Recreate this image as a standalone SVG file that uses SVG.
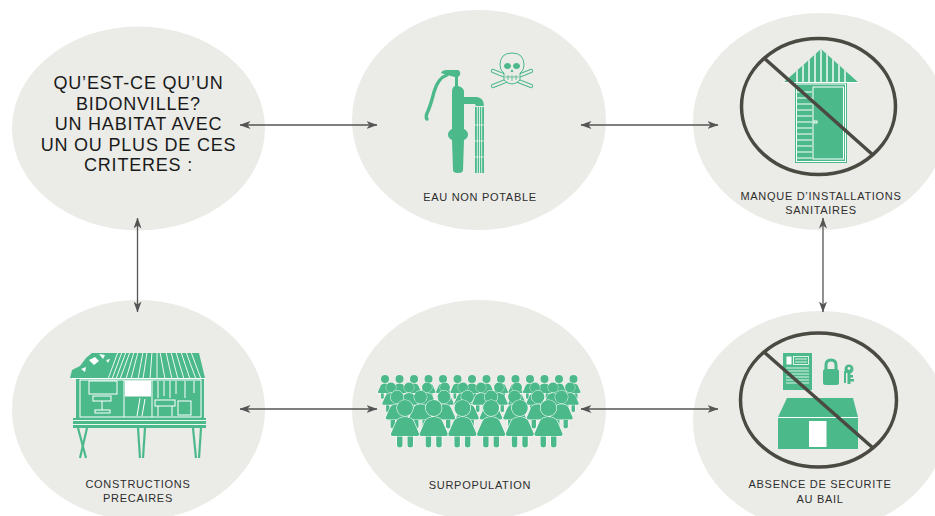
<svg xmlns="http://www.w3.org/2000/svg" xmlns:xlink="http://www.w3.org/1999/xlink" width="935" height="516" viewBox="0 0 935 516">
  <style>
    .bubble { fill: #ebebe7; }
    .title { font-family: "Liberation Sans", Arial, sans-serif; font-size: 18px; letter-spacing: 0.8px; fill: #1a1a1a; text-anchor: middle; }
    .label { font-family: "Liberation Sans", Arial, sans-serif; font-size: 11px; letter-spacing: 0.7px; fill: #2e2e2e; text-anchor: middle; }
    .g { fill: #4cb98b; }
    .gs { fill: none; stroke: #4cb98b; }
    .wl { fill: none; stroke: #ffffff; }
    .ban { fill: none; stroke: #4a4a42; stroke-width: 3.5; }
    .link { fill: none; stroke: #555555; stroke-width: 1.3; marker-start: url(#head); marker-end: url(#head); }
  </style>
  <defs>
    <marker id="head" viewBox="0 0 11 8" markerUnits="userSpaceOnUse" markerWidth="11" markerHeight="8" refX="10.5" refY="4" orient="auto-start-reverse">
      <path d="M0,0 L11,4 L0,8 L3,4 Z" fill="#555555"/>
    </marker>
    <symbol id="person" overflow="visible">
      <g fill="#4cb98b" stroke="#ffffff" stroke-width="1.2" paint-order="stroke">
        <path d="M-8,27 h5.5 v10 q0,2.5 -2.75,2.5 q-2.75,0 -2.75,-2.5 Z"/>
        <path d="M2.5,27 h5.5 v10 q0,2.5 -2.75,2.5 q-2.75,0 -2.75,-2.5 Z"/>
        <circle cx="0" cy="0" r="8"/>
        <path d="M-5,10 Q0,8 5,10 Q8,11 9,14 L14,25.5 Q14.5,28 12,28 L-12,28 Q-14.5,28 -14,25.5 L-9,14 Q-8,11 -5,10 Z"/>
      </g>
    </symbol>
    <clipPath id="roofClip">
      <path d="M821,49 L859,83 L783,83 Z"/>
    </clipPath>
    <clipPath id="shackRoof">
      <path d="M70,378 L72,370 L80,366 L86,358 L92,353 L199,353 L205,378 Z"/>
    </clipPath>
  </defs>

  <!-- question bubble -->
  <g id="node-question">
    <ellipse class="bubble" cx="138.5" cy="128.5" rx="126.5" ry="102"/>
    <text class="title" x="138.5" y="89">QU’EST-CE QU’UN</text>
    <text class="title" x="138.5" y="109.5">BIDONVILLE?</text>
    <text class="title" x="138.5" y="130">UN HABITAT AVEC</text>
    <text class="title" x="138.5" y="150.5">UN OU PLUS DE CES</text>
    <text class="title" x="138.5" y="171">CRITERES :</text>
  </g>

  <!-- unsafe water -->
  <g id="node-water">
    <ellipse class="bubble" cx="479" cy="120" rx="127" ry="110"/>
    <!-- pump handle -->
    <path class="gs" stroke-width="3.4" stroke-linecap="round" d="M447,75 Q438,78 434,92 Q431,104 428,111 Q425,117 427,119"/>
    <!-- pump cap and body -->
    <path class="g" d="M441,73 Q442,70 447,70 L458,70 Q461,71 460,75 L458,77 L458,86 Q463,87 464,91 L464,97 L477,97 Q484,98 484,106 L476,106 L475,104 L464,104 L464,129 Q468,131 468,134.5 Q468,138 464,140 L463,170 Q463,173 458,173 Q453,173 453,170 L452,140 Q448,138 448,134.5 Q448,131 452,129 L452,92 Q452,87 455,86 L455,77 L447,75 Z"/>
    <!-- water stream -->
    <rect class="g" x="475" y="107" width="9" height="66"/>
    <g class="wl" stroke-width="0.8">
      <line x1="477.3" y1="107" x2="477.3" y2="173"/>
      <line x1="479.5" y1="107" x2="479.5" y2="173"/>
      <line x1="481.7" y1="107" x2="481.7" y2="173"/>
      <line x1="475" y1="125" x2="484" y2="125" stroke="#ebebe7"/>
      <line x1="475" y1="141" x2="484" y2="141" stroke="#ebebe7"/>
      <line x1="475" y1="157" x2="484" y2="157" stroke="#ebebe7"/>
    </g>
    <!-- skull and crossbones -->
    <g stroke="#4cb98b" stroke-width="1" fill="#ebebe7">
      <path d="M493,71 L531,86 M531,71 L493,86" stroke-width="4.2" stroke-linecap="round"/>
      <path d="M493,71 L531,86 M531,71 L493,86" stroke="#ebebe7" stroke-width="2.2" stroke-linecap="round"/>
      <path d="M512,53 Q524,53 524,65 Q524,71 520,73 L520,80 Q516,84 512,84 Q508,84 504,80 L504,73 Q500,71 500,65 Q500,53 512,53 Z"/>
      <ellipse cx="507.5" cy="66" rx="3" ry="2.6" fill="#4cb98b"/>
      <ellipse cx="516.5" cy="66" rx="3" ry="2.6" fill="#4cb98b"/>
      <path d="M512,69 L510.5,72 L513.5,72 Z" fill="#4cb98b" stroke="none"/>
      <path d="M505,77 L519,77 M508,75 L508,80 M512,75 L512,81 M516,75 L516,80" stroke-width="0.8"/>
    </g>
    <text class="label" x="480" y="201">EAU NON POTABLE</text>
  </g>

  <!-- lack of sanitation -->
  <g id="node-sanitation">
    <ellipse class="bubble" cx="820" cy="121.5" rx="127" ry="108.5"/>
    <!-- outhouse -->
    <path class="g" d="M821,49 L859,83 L783,83 Z"/>
    <g clip-path="url(#roofClip)" class="wl" stroke-width="1.4">
      <line x1="797" y1="45" x2="797" y2="84"/>
      <line x1="803" y1="45" x2="803" y2="84"/>
      <line x1="809" y1="45" x2="809" y2="84"/>
      <line x1="815" y1="45" x2="815" y2="84"/>
      <line x1="821" y1="45" x2="821" y2="84"/>
      <line x1="827" y1="45" x2="827" y2="84"/>
      <line x1="833" y1="45" x2="833" y2="84"/>
      <line x1="839" y1="45" x2="839" y2="84"/>
      <line x1="845" y1="45" x2="845" y2="84"/>
    </g>
    <rect class="g" x="795" y="82" width="52" height="81"/>
    <g class="wl" stroke-width="1">
      <line x1="783" y1="82.5" x2="859" y2="82.5"/>
      <rect x="796.5" y="84" width="49" height="77.5"/>
      <rect x="813" y="87" width="30.5" height="72"/>
      <line x1="797" y1="92" x2="812" y2="92"/>
      <line x1="797" y1="98" x2="812" y2="98"/>
      <line x1="797" y1="104" x2="812" y2="104"/>
      <line x1="797" y1="110" x2="812" y2="110"/>
      <line x1="797" y1="116" x2="812" y2="116"/>
      <line x1="797" y1="122" x2="812" y2="122"/>
      <line x1="797" y1="128" x2="812" y2="128"/>
      <line x1="797" y1="134" x2="812" y2="134"/>
      <line x1="797" y1="140" x2="812" y2="140"/>
      <line x1="797" y1="146" x2="812" y2="146"/>
      <line x1="797" y1="152" x2="812" y2="152"/>
      <line x1="797" y1="158" x2="812" y2="158"/>
      <rect x="814" y="121" width="3" height="2"/>
    </g>
    <!-- prohibition sign -->
    <ellipse class="ban" cx="818.5" cy="106.5" rx="77" ry="68"/>
    <line class="ban" x1="764" y1="58" x2="873" y2="155"/>
    <text class="label" x="821" y="200">MANQUE D’INSTALLATIONS</text>
    <text class="label" x="821" y="214">SANITAIRES</text>
  </g>

  <!-- precarious housing -->
  <g id="node-housing">
    <ellipse class="bubble" cx="138.5" cy="410" rx="126.5" ry="110"/>
    <!-- roof -->
    <path class="g" d="M70,378 L72,370 L80,366 L86,358 L92,353 L199,353 L205,378 Z"/>
    <g clip-path="url(#shackRoof)" class="wl" stroke-width="0.9">
      <line x1="118" y1="352" x2="108" y2="379"/>
      <line x1="122" y1="352" x2="112" y2="379"/>
      <line x1="126" y1="352" x2="116" y2="379"/>
      <line x1="130" y1="352" x2="120" y2="379"/>
      <line x1="134" y1="352" x2="126" y2="379"/>
      <line x1="138" y1="352" x2="131" y2="379"/>
      <line x1="143" y1="352" x2="138" y2="379"/>
      <line x1="147" y1="352" x2="143" y2="379"/>
      <line x1="152" y1="352" x2="150" y2="379"/>
      <line x1="157" y1="352" x2="157" y2="379"/>
      <line x1="160" y1="352" x2="165" y2="379"/>
      <line x1="166" y1="352" x2="172" y2="379"/>
      <line x1="171" y1="352" x2="178" y2="379"/>
      <line x1="176" y1="352" x2="184" y2="379"/>
      <line x1="181" y1="352" x2="190" y2="379"/>
      <line x1="186" y1="352" x2="196" y2="379"/>
      <line x1="191" y1="352" x2="201" y2="379"/>
    </g>
    <path fill="#ffffff" d="M89,360 L95,357 L99,361 L94,365 Z M99,354 L105,355 L103,359 Z M81,369 L86,367 L85,372 Z M106,360 L110,359 L108,363 Z"/>
    <!-- walls -->
    <rect class="g" x="76" y="378" width="128" height="41"/>
    <g class="wl" stroke-width="1">
      <line x1="72" y1="378.5" x2="205" y2="378.5"/>
      <rect x="80" y="380" width="121" height="37"/>
      <line x1="124" y1="380" x2="124" y2="417"/>
      <line x1="152" y1="380" x2="152" y2="417"/>
      <rect x="89" y="381" width="28" height="13"/>
      <rect x="93" y="396" width="18" height="5"/>
      <line x1="102" y1="401" x2="102" y2="410"/>
      <rect x="95" y="410" width="15" height="3"/>
      <line x1="140" y1="398" x2="137" y2="416"/>
      <line x1="145" y1="399" x2="142" y2="416"/>
      <line x1="158" y1="381" x2="158" y2="398"/>
      <line x1="164" y1="381" x2="164" y2="396"/>
      <line x1="170" y1="381" x2="170" y2="398"/>
      <line x1="176" y1="381" x2="176" y2="394"/>
      <line x1="185" y1="381" x2="185" y2="398"/>
      <line x1="194" y1="381" x2="194" y2="393"/>
      <rect x="155" y="400" width="20" height="6"/>
      <line x1="158" y1="406" x2="158" y2="416"/>
      <line x1="172" y1="406" x2="172" y2="416"/>
      <rect x="178" y="401" width="13" height="14"/>
    </g>
    <rect fill="#ffffff" x="125" y="380.5" width="26" height="16"/>
    <!-- platform and stilts -->
    <rect class="g" x="73" y="418" width="133" height="10"/>
    <g class="wl" stroke-width="0.9">
      <line x1="73" y1="420.5" x2="206" y2="420.5"/>
      <line x1="73" y1="424.5" x2="206" y2="424.5"/>
    </g>
    <g class="gs" stroke-width="2.2">
      <line x1="78" y1="428" x2="86" y2="458"/>
      <line x1="87" y1="428" x2="80" y2="458"/>
      <line x1="138" y1="428" x2="140" y2="458"/>
      <line x1="145" y1="428" x2="143" y2="458"/>
      <line x1="193" y1="428" x2="196" y2="458"/>
      <line x1="201" y1="428" x2="199" y2="458"/>
    </g>
    <text class="label" x="138" y="488">CONSTRUCTIONS</text>
    <text class="label" x="138" y="502">PRECAIRES</text>
  </g>

  <!-- overcrowding -->
  <g id="node-overcrowding">
    <ellipse class="bubble" cx="479" cy="410" rx="127" ry="110"/>
    <g>
      <use xlink:href="#person" href="#person" transform="translate(385,379) scale(0.5)"/>
      <use xlink:href="#person" href="#person" transform="translate(399.5,379) scale(0.5)"/>
      <use xlink:href="#person" href="#person" transform="translate(414,379) scale(0.5)"/>
      <use xlink:href="#person" href="#person" transform="translate(428.5,379) scale(0.5)"/>
      <use xlink:href="#person" href="#person" transform="translate(443,379) scale(0.5)"/>
      <use xlink:href="#person" href="#person" transform="translate(457.5,379) scale(0.5)"/>
      <use xlink:href="#person" href="#person" transform="translate(472,379) scale(0.5)"/>
      <use xlink:href="#person" href="#person" transform="translate(486.5,379) scale(0.5)"/>
      <use xlink:href="#person" href="#person" transform="translate(501,379) scale(0.5)"/>
      <use xlink:href="#person" href="#person" transform="translate(515.5,379) scale(0.5)"/>
      <use xlink:href="#person" href="#person" transform="translate(530,379) scale(0.5)"/>
      <use xlink:href="#person" href="#person" transform="translate(544.5,379) scale(0.5)"/>
      <use xlink:href="#person" href="#person" transform="translate(559,379) scale(0.5)"/>
      <use xlink:href="#person" href="#person" transform="translate(573.5,379) scale(0.5)"/>

      <use xlink:href="#person" href="#person" transform="translate(391,387.5) scale(0.62)"/>
      <use xlink:href="#person" href="#person" transform="translate(409,387.5) scale(0.62)"/>
      <use xlink:href="#person" href="#person" transform="translate(427,387.5) scale(0.62)"/>
      <use xlink:href="#person" href="#person" transform="translate(445,387.5) scale(0.62)"/>
      <use xlink:href="#person" href="#person" transform="translate(463,387.5) scale(0.62)"/>
      <use xlink:href="#person" href="#person" transform="translate(481,387.5) scale(0.62)"/>
      <use xlink:href="#person" href="#person" transform="translate(499,387.5) scale(0.62)"/>
      <use xlink:href="#person" href="#person" transform="translate(517,387.5) scale(0.62)"/>
      <use xlink:href="#person" href="#person" transform="translate(535,387.5) scale(0.62)"/>
      <use xlink:href="#person" href="#person" transform="translate(553,387.5) scale(0.62)"/>
      <use xlink:href="#person" href="#person" transform="translate(570,387.5) scale(0.62)"/>

      <use xlink:href="#person" href="#person" transform="translate(397,397) scale(0.8)"/>
      <use xlink:href="#person" href="#person" transform="translate(420.5,397) scale(0.8)"/>
      <use xlink:href="#person" href="#person" transform="translate(444,397) scale(0.8)"/>
      <use xlink:href="#person" href="#person" transform="translate(467.5,397) scale(0.8)"/>
      <use xlink:href="#person" href="#person" transform="translate(491,397) scale(0.8)"/>
      <use xlink:href="#person" href="#person" transform="translate(514.5,397) scale(0.8)"/>
      <use xlink:href="#person" href="#person" transform="translate(538,397) scale(0.8)"/>
      <use xlink:href="#person" href="#person" transform="translate(561.5,397) scale(0.8)"/>

      <use xlink:href="#person" href="#person" transform="translate(405,408)"/>
      <use xlink:href="#person" href="#person" transform="translate(433.7,408)"/>
      <use xlink:href="#person" href="#person" transform="translate(462.4,408)"/>
      <use xlink:href="#person" href="#person" transform="translate(491.1,408)"/>
      <use xlink:href="#person" href="#person" transform="translate(519.8,408)"/>
      <use xlink:href="#person" href="#person" transform="translate(548.5,408)"/>
    </g>
    <text class="label" x="480" y="489">SURPOPULATION</text>
  </g>

  <!-- no tenure security -->
  <g id="node-tenure">
    <ellipse class="bubble" cx="820" cy="421" rx="127" ry="110"/>
    <!-- lease document -->
    <rect class="g" x="783" y="353" width="29" height="37"/>
    <rect fill="#ffffff" x="786.5" y="356.5" width="5" height="8"/>
    <g class="wl" stroke-width="0.8">
      <rect x="793.5" y="356.5" width="15" height="8"/>
      <line x1="795" y1="359" x2="807" y2="359"/>
      <line x1="795" y1="362" x2="807" y2="362"/>
      <line x1="786" y1="368" x2="809" y2="368"/>
      <line x1="786" y1="371" x2="809" y2="371"/>
      <line x1="786" y1="374" x2="809" y2="374"/>
      <line x1="786" y1="377" x2="809" y2="377"/>
      <line x1="786" y1="380" x2="809" y2="380"/>
      <line x1="786" y1="383" x2="809" y2="383"/>
    </g>
    <!-- padlock -->
    <path class="gs" stroke-width="3" d="M826,370 L826,365 Q826,360 831,360 Q836,360 836,365 L836,370"/>
    <rect class="g" x="823" y="369" width="16" height="16" rx="2.5"/>
    <!-- key -->
    <circle class="g" cx="849" cy="369" r="4.5"/>
    <circle fill="#ebebe7" cx="849" cy="368.5" r="1.4"/>
    <path class="g" d="M847.5,372 L850.5,372 L850.5,375 L853,375 L853,377.5 L850.5,377.5 L850.5,379 L854,379 L854,381.5 L850.5,381.5 L850.5,384 L847.5,384 Z"/>
    <path class="g" d="M844,371 L846,371 L846,383 L844,383 Z"/>
    <!-- house -->
    <path class="g" d="M787,398 L853,398 L858,417 L778,417 Z"/>
    <rect class="g" x="778" y="418" width="80" height="31"/>
    <line class="wl" stroke-width="1" x1="777" y1="417.5" x2="859" y2="417.5"/>
    <rect fill="#ffffff" x="809" y="421" width="17.5" height="26"/>
    <!-- prohibition sign -->
    <ellipse class="ban" cx="818.5" cy="400" rx="78" ry="67"/>
    <line class="ban" x1="764" y1="352" x2="873" y2="448"/>
    <text class="label" x="820" y="488">ABSENCE DE SECURITE</text>
    <text class="label" x="820" y="502.5">AU BAIL</text>
  </g>

  <!-- connectors, drawn over the bubbles -->
  <g id="connectors">
    <line class="link" x1="240" y1="125" x2="377" y2="125"/>
    <line class="link" x1="581" y1="125" x2="718" y2="125"/>
    <line class="link" x1="137.5" y1="218" x2="137.5" y2="312"/>
    <line class="link" x1="823" y1="218" x2="823" y2="312"/>
    <line class="link" x1="240" y1="409" x2="377" y2="409"/>
    <line class="link" x1="581" y1="409" x2="718" y2="409"/>
  </g>
</svg>
